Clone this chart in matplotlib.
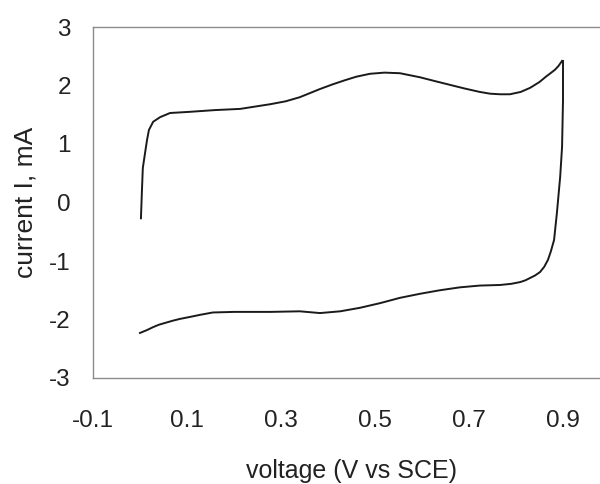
import matplotlib
matplotlib.use("Agg")
import matplotlib.pyplot as plt

# anodic (forward) scan
fwd_v = [0.002, 0.004, 0.006, 0.011, 0.015, 0.019, 0.028, 0.043, 0.064, 0.106,
         0.160, 0.213, 0.277, 0.310, 0.340, 0.383, 0.410, 0.436, 0.460, 0.489,
         0.520, 0.553, 0.596, 0.630, 0.660, 0.690, 0.723, 0.745, 0.766, 0.787,
         0.810, 0.830, 0.850, 0.862, 0.875, 0.883, 0.890, 0.898]
fwd_i = [-0.27, 0.18, 0.59, 0.86, 1.07, 1.24, 1.38, 1.46, 1.53, 1.55,
         1.58, 1.60, 1.68, 1.73, 1.80, 1.94, 2.02, 2.09, 2.15, 2.20,
         2.22, 2.21, 2.14, 2.07, 2.01, 1.95, 1.89, 1.86, 1.85, 1.85,
         1.89, 1.96, 2.06, 2.14, 2.22, 2.27, 2.33, 2.42]

# cathodic (return) scan
rev_v = [0.900, 0.900, 0.898, 0.894, 0.887, 0.881, 0.874, 0.868, 0.860, 0.851,
         0.840, 0.830, 0.820, 0.809, 0.790, 0.766, 0.723, 0.681, 0.638, 0.596,
         0.553, 0.511, 0.468, 0.426, 0.383, 0.340, 0.277, 0.200, 0.155, 0.128,
         0.110, 0.085, 0.070, 0.057, 0.040, 0.028, 0.015, 0.000]
rev_i = [2.42, 1.75, 0.95, 0.44, -0.18, -0.64, -0.84, -0.98, -1.10, -1.19,
         -1.25, -1.29, -1.33, -1.36, -1.39, -1.41, -1.42, -1.45, -1.50, -1.56,
         -1.63, -1.72, -1.80, -1.86, -1.89, -1.86, -1.87, -1.87, -1.88, -1.92,
         -1.95, -1.99, -2.02, -2.05, -2.09, -2.13, -2.18, -2.23]

x_ticks = [-0.1, 0.1, 0.3, 0.5, 0.7, 0.9]
x_tick_labels = ["-0.1", "0.1", "0.3", "0.5", "0.7", "0.9"]
y_ticks = [-3, -2, -1, 0, 1, 2, 3]

plt.rcParams["font.family"] = ["Liberation Sans", "DejaVu Sans"]
plt.rcParams["axes.unicode_minus"] = False

fig = plt.figure(figsize=(6.0, 4.84), dpi=100)
# right edge of the plot box sits just past the image edge, as in the reference
ax = fig.add_axes((93 / 600, 106 / 484, 517 / 600, 351 / 484))

ax.plot(fwd_v, fwd_i, color="#1a1a1a", linewidth=1.4)
ax.plot(rev_v, rev_i, color="#1a1a1a", linewidth=1.4)

ax.set_xlim(-0.1, 1.0)
ax.set_ylim(-3, 3)
ax.set_xticks(x_ticks)
ax.set_xticklabels(x_tick_labels)
ax.set_yticks(y_ticks)
ax.tick_params(length=0, labelsize=17.5, colors="#222222")
ax.tick_params(axis="y", pad=16)
ax.tick_params(axis="x", pad=23)

for spine in ax.spines.values():
    spine.set_color("#8c8c8c")
    spine.set_linewidth(1.0)

ax.set_xlabel("voltage (V vs SCE)", fontsize=18, color="#222222")
ax.set_ylabel("current I, mA", fontsize=19, color="#222222")
ax.xaxis.set_label_coords(0.5, -0.232)
ax.yaxis.set_label_coords(-0.108, 0.5)

fig.savefig("out.png", dpi=100)
